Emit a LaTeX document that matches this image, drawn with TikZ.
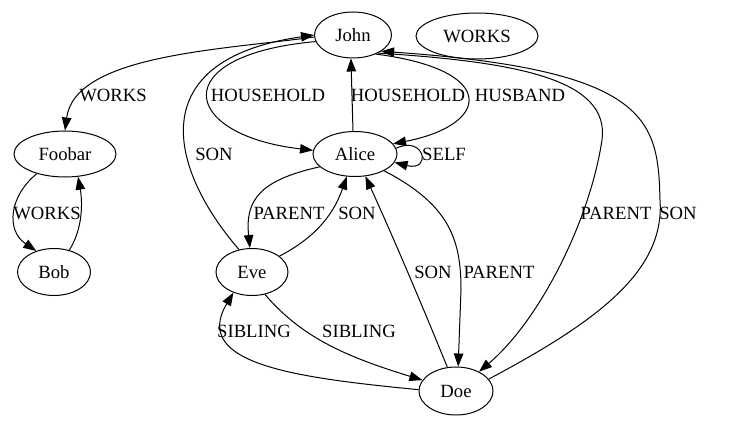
\documentclass[tikz,border=0pt]{standalone}
\usepackage{fontspec}
\setmainfont{Liberation Serif}
\usetikzlibrary{shapes.geometric,arrows.meta}
\begin{document}
\begin{tikzpicture}[x=1pt,y=-1pt,
  every node/.style={font=\fontsize{18.67}{22}\selectfont},
  nd/.style={draw, ellipse, line width=1pt, inner sep=0pt, minimum height=46pt},
  lbl/.style={inner sep=0pt},
  edge/.style={line width=1pt, -{Triangle[length=13pt,width=9.5pt]}}]
\useasboundingbox (0,0) rectangle (733,425);
% nodes
\node[nd, minimum width=77pt] (john) at (353,35) {John};
\node[nd, minimum width=122pt] (works) at (477,36) {WORKS};
\node[nd, minimum width=84pt, minimum height=45pt] (alice) at (355,154) {Alice};
\node[nd, minimum width=102pt] (foobar) at (65,154) {Foobar};
\node[nd, minimum width=73pt, minimum height=47pt] (bob) at (54,272) {Bob};
\node[nd, minimum width=72pt, minimum height=47pt] (eve) at (252,272) {Eve};
\node[nd, minimum width=74pt, minimum height=48pt] (doe) at (456,391) {Doe};
% edges
\draw[edge] (john.183) .. controls (220,50) and (75,55) .. (foobar.north);
\draw[edge] (eve.120) .. controls (170,170) and (140,60) .. (john.180);
\draw[edge] (john.190) .. controls (165,55) and (180,135) .. (alice.175);
\draw[edge] (alice.95) -- (john.-95);
\draw[edge] (john.-40) .. controls (500,70) and (490,125) .. (alice.15);
\draw[edge] (alice.8) .. controls (425,135) and (432,172) .. (alice.-12);
\draw[edge] (alice.200) .. controls (260,180) and (245,200) .. (eve.95);
\draw[edge] (eve.30) .. controls (320,235) and (335,210) .. (alice.-110);
\draw[edge] (doe.110) .. controls (420,300) and (390,230) .. (alice.-65);
\draw[edge] (alice.-30) .. controls (450,205) and (461,240) .. (461,290) -- (doe.85);
\draw[edge] (eve.-60) .. controls (300,335) and (340,355) .. (doe.162);
\draw[edge] (doe.178) .. controls (300,378) and (190,365) .. (eve.-132);
\draw[edge] (john.-36) .. controls (520,62) and (610,80) .. (602,140) .. controls (590,220) and (540,320) .. (doe.40);
\draw[edge] (doe.20) .. controls (600,320) and (665,270) .. (660,200) .. controls (658,120) and (650,70) .. (john.-30);
\draw[edge] (foobar.-145) .. controls (10,195) and (5,230) .. (bob.130);
\draw[edge] (bob.55) .. controls (82,230) and (83,205) .. (foobar.-60);
% labels
\node[lbl] (l1) at (113,95) {WORKS};
\node[lbl] (l2) at (268,95) {HOUSEHOLD};
\node[lbl] (l3) at (214,154) {SON};
\node[lbl] (l4) at (408,95) {HOUSEHOLD};
\node[lbl] (l5) at (520,95) {HUSBAND};
\node[lbl] (l6) at (444,154) {SELF};
\node[lbl] (l7) at (289,213) {PARENT};
\node[lbl] (l8) at (357,213) {SON};
\node[lbl] (l9) at (433,272) {SON};
\node[lbl] (l10) at (499,272) {PARENT};
\node[lbl] (l11) at (254,331) {SIBLING};
\node[lbl] (l12) at (359,331) {SIBLING};
\node[lbl] (l13) at (616,213) {PARENT};
\node[lbl] (l14) at (678,213) {SON};
\node[lbl] (l15) at (47,213) {WORKS};
\end{tikzpicture}
\end{document}
